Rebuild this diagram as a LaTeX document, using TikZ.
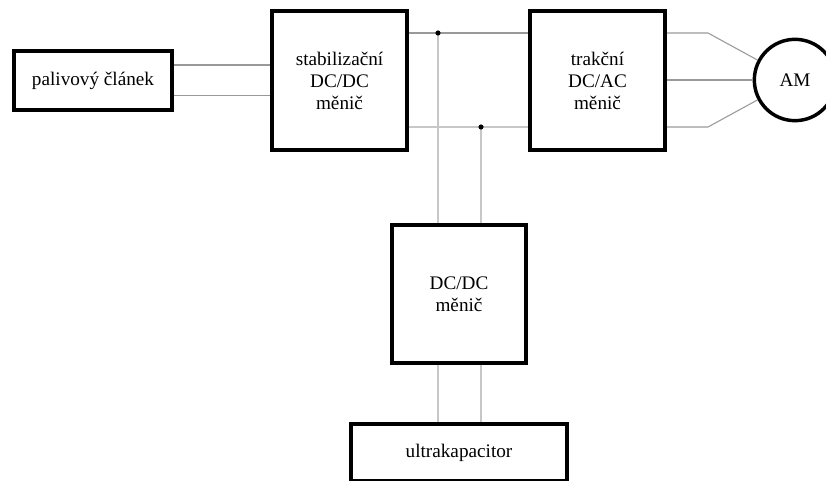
\documentclass[tikz,border=0pt]{standalone}
\usepackage{fontspec}
\setmainfont{Liberation Serif}
\usetikzlibrary{positioning}

\tikzset{
	block/.style={draw, line width=2.8pt, fill=white, align=center,
		font=\fontsize{14.4}{16.5}\selectfont, inner sep=2pt},
	wire/.style={draw=black!40, line width=0.8pt},
	litewire/.style={draw=black!22, line width=0.8pt},
	dot/.style={fill=black},
}

\begin{document}
\begin{tikzpicture}[x=0.75pt, y=-0.75pt]
		\useasboundingbox (0,0) rectangle (826,481);
		\clip (0,0) rectangle (826,481);

		\coordinate (b_0) at (438,33);
		\coordinate (b_1) at (481,127);
		\coordinate (m_0) at (708,33);
		\coordinate (m_1) at (708,127);

		\node [block, minimum width=118.5pt, minimum height=44.6pt] (pal) at (93,80.5) {palivový článek};
		\node [block, minimum width=101.6pt, minimum height=104.6pt] (stab) at (339.5,80.5) {stabilizační\\DC/DC\\měnič};
		\node [block, minimum width=101.6pt, minimum height=104.6pt] (trak) at (597.5,80.5) {trakční\\DC/AC\\měnič};
		\node [block, minimum width=101pt, minimum height=104pt] (dcdc) at (459,294) {DC/DC\\měnič};
		\node [block, minimum width=162.4pt, minimum height=42.75pt] (ultra) at (459,452.5) {ultrakapacitor};
		\node [block, circle, minimum size=61pt, line width=2.6pt] (am) at (795,80) {AM};

		\draw [wire] ([yshift=11.6pt]pal.east) -- ([yshift=11.6pt]pal.east -| stab.west);
		\draw [wire] ([yshift=-11.6pt]pal.east) -- ([yshift=-11.6pt]pal.east -| stab.west);

		\draw [wire] (stab.east |- b_0) -- (trak.west |- b_0);
		\draw [litewire] (stab.east |- b_1) -- (trak.west |- b_1);

		\draw [litewire] (b_0) -- (b_0 |- dcdc.north);
		\draw [litewire] (b_1) -- (b_1 |- dcdc.north);
		\draw [litewire] (b_0 |- dcdc.south) -- (b_0 |- ultra.north);
		\draw [litewire] (b_1 |- dcdc.south) -- (b_1 |- ultra.north);

		\draw [wire] (trak.east |- m_0) -- (m_0) -- (am.152);
		\draw [wire] (trak.east |- am.west) -- (am.west);
		\draw [wire] (trak.east |- m_1) -- (m_1) -- (am.208);

		\fill [dot] (b_0) circle [radius=2.6];
		\fill [dot] (b_1) circle [radius=2.6];

	\end{tikzpicture}
\end{document}
